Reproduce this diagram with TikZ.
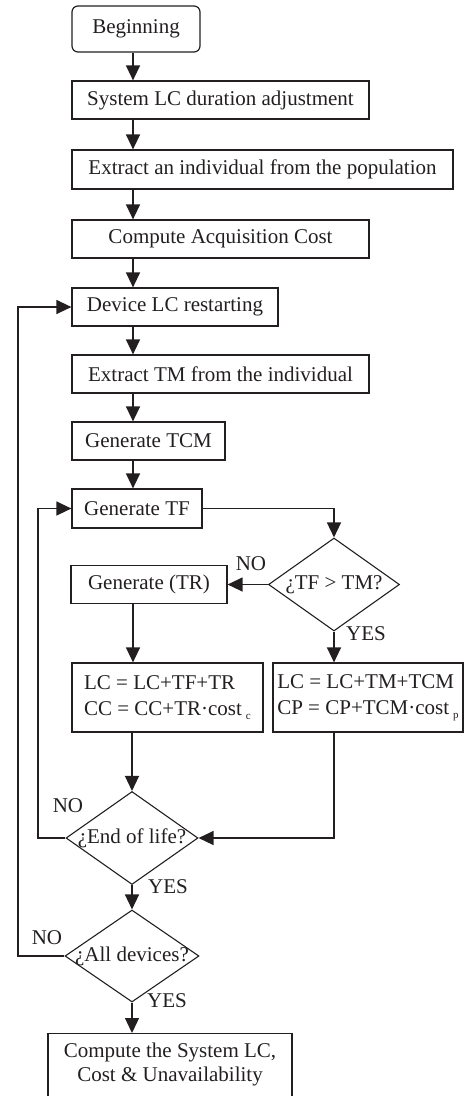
\documentclass[tikz,border=0pt]{standalone}
\usepackage{fontspec}
\setmainfont{Liberation Serif}
\usetikzlibrary{shapes.geometric,arrows.meta}
\definecolor{ink}{HTML}{231F20}
\newcommand\mysub[1]{\hspace{4pt}\raisebox{-4pt}{\fontsize{11}{11}\selectfont #1}}
\begin{document}
\begin{tikzpicture}[x=1pt,y=-1pt,
  every node/.style={font=\fontsize{21}{24}\selectfont, text=ink},
  box/.style={draw=ink, line width=1.2pt, rectangle, inner sep=1pt, minimum height=38pt},
  dec/.style={draw=ink, line width=1.1pt, diamond, inner sep=0pt},
  lbl/.style={inner sep=0pt},
  arr/.style={draw=ink, line width=1.3pt, -{Triangle[length=15pt,width=14pt]}}]
\useasboundingbox (0,0) rectangle (464,1096);
\clip (0,0) rectangle (464,1096);
\node[box, rounded corners=6pt, minimum width=128pt, minimum height=46pt] (begin) at (136,29) {Beginning};
\node[box, minimum width=297pt] (sys) at (220.5,100) {System LC duration adjustment};
\node[box, minimum width=381pt, minimum height=39pt] (ext) at (262.5,169.5) {Extract an individual from the population};
\node[box, minimum width=297pt] (acq) at (220.5,239) {Compute Acquisition Cost};
\node[box, minimum width=206pt] (dev) at (175,307) {Device LC restarting};
\node[box, minimum width=297pt] (tm) at (220.5,374) {Extract TM from the individual};
\node[box, minimum width=153pt] (tcm) at (148.5,441) {Generate TCM};
\node[box, minimum width=130pt, minimum height=39pt] (tf) at (137,508.5) {Generate TF};
\node[dec, minimum width=131pt, minimum height=93pt] (d1) at (334,584.5) {\makebox[0pt]{¿TF > TM?}};
\node[box, minimum width=156pt] (tr) at (149,584.5) {Generate (TR)};
\node[box, minimum width=191pt, minimum height=69pt, align=left] (lc) at (167.5,697.5) {LC = LC+TF+TR\\[2pt]CC = CC+TR·cost\mysub{c}};
\node[box, minimum width=190pt, minimum height=69pt, align=left] (cp) at (368,697.5) {LC = LC+TM+TCM\\[2pt]CP = CP+TCM·cost\mysub{p}};
\node[dec, minimum width=132pt, minimum height=93pt] (d2) at (132,838) {\makebox[0pt]{¿End of life?}};
\node[dec, minimum width=134pt, minimum height=92pt] (d3) at (132,956) {\makebox[0pt]{¿All devices?}};
\node[box, anchor=north, inner sep=0pt] (fin) at (170,1033) {\parbox[t][75pt][t]{244pt}{\centering\vspace*{9pt}Compute the System LC,\\Cost \& Unavailability}};
\node[lbl] (no1) at (251,564) {NO};
\node[lbl] (yes1) at (366,634) {YES};
\node[lbl] (no2) at (68,806) {NO};
\node[lbl] (yes2) at (168,887) {YES};
\node[lbl] (no3) at (47,938) {NO};
\node[lbl] (yes3) at (167,1001) {YES};
\coordinate (mx) at (133,0);
\coordinate (l1) at (38,0);
\coordinate (l2) at (18,0);
\draw[arr] (begin.south -| mx) -- (sys.north -| mx);
\draw[arr] (sys.south -| mx) -- (ext.north -| mx);
\draw[arr] (ext.south -| mx) -- (acq.north -| mx);
\draw[arr] (acq.south -| mx) -- (dev.north -| mx);
\draw[arr] (dev.south -| mx) -- (tm.north -| mx);
\draw[arr] (tm.south -| mx) -- (tcm.north -| mx);
\draw[arr] (tcm.south -| mx) -- (tf.north -| mx);
\draw[arr] (tf.east) -| (d1.north);
\draw[arr] (d1.west) -- (tr.east);
\draw[arr] (tr.south -| mx) -- (lc.north -| mx);
\draw[arr] (d1.south) -- (cp.north -| d1.south);
\draw[arr] (lc.south -| d2.north) -- (d2.north);
\draw[arr] (cp.south -| d1.south) |- (d2.east);
\draw[arr] (d2.west) -- (d2.west -| l1) |- (tf.west);
\draw[arr] (d2.south) -- (d3.north);
\draw[arr] (d3.west) -- (d3.west -| l2) |- (dev.west);
\draw[arr] (d3.south) -- (fin.north -| d3.south);
\end{tikzpicture}
\end{document}
